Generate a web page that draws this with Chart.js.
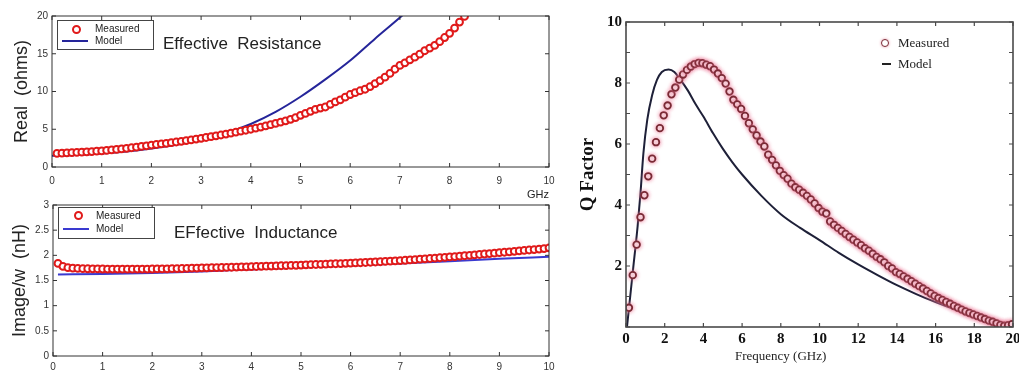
<!DOCTYPE html>
<html><head><meta charset="utf-8">
<script src="https://cdn.jsdelivr.net/npm/chart.js@4.4.1/dist/chart.umd.min.js"></script>
<style>
body{margin:0;background:#fff;width:1019px;height:380px;position:relative;overflow:hidden;font-family:"Liberation Sans",Arial,sans-serif}
canvas{position:absolute}
.t{position:absolute;white-space:pre;color:#222;line-height:1}
.box{position:absolute;border:1px solid #444;background:#fff}
.mk{position:absolute;border-radius:50%;box-sizing:border-box;background:#fff}
.ln{position:absolute;height:2px}
</style></head>
<body>
<canvas id="cA" width="560" height="205" style="left:0;top:0"></canvas>
<canvas id="cB" width="560" height="185" style="left:0;top:195px"></canvas>
<canvas id="cC" width="459" height="380" style="left:560px;top:0"></canvas>

<!-- legends / annotations -->
<div class="box" style="left:57px;top:20px;width:95px;height:28px"></div>
<div class="mk" style="left:72px;top:25px;width:9px;height:9px;border:2.5px solid #e01a1a"></div>
<div class="t" style="left:95px;top:24px;font-size:10px">Measured</div>
<div class="ln" style="left:62px;top:40px;width:26px;background:#25259a"></div>
<div class="t" style="left:95px;top:36px;font-size:10px">Model</div>
<div class="t" style="left:163px;top:35px;font-size:17px">Effective  Resistance</div>

<div class="box" style="left:58px;top:207px;width:95px;height:30px"></div>
<div class="mk" style="left:74px;top:211px;width:9px;height:9px;border:2.5px solid #e01a1a"></div>
<div class="t" style="left:96px;top:211px;font-size:10px">Measured</div>
<div class="ln" style="left:63px;top:228px;width:26px;background:#3a3ad0"></div>
<div class="t" style="left:96px;top:224px;font-size:10px">Model</div>
<div class="t" style="left:174px;top:224px;font-size:17px">EFfective  Inductance</div>

<div class="mk" style="left:881px;top:39px;width:8px;height:8px;border:1.8px solid #7a2a35;box-shadow:0 0 3px #e8a0b0"></div>
<div class="t" style="left:898px;top:36px;font-size:13px;font-family:'Liberation Serif',serif">Measured</div>
<div class="ln" style="left:882px;top:63px;width:9px;height:1.5px;background:#222"></div>
<div class="t" style="left:898px;top:57px;font-size:13px;font-family:'Liberation Serif',serif">Model</div>
<div class="t" style="left:735px;top:349px;font-size:13px;font-family:'Liberation Serif',serif">Frequency (GHz)</div>

<script>
// ---------- Effective Resistance ----------
const resFreq = [0.1,0.2,0.3,0.4,0.5,0.6,0.7,0.8,0.9,1.0,
  1.1,1.2,1.3,1.4,1.5,1.6,1.7,1.8,1.9,2.0,
  2.1,2.2,2.3,2.4,2.5,2.6,2.7,2.8,2.9,3.0,
  3.1,3.2,3.3,3.4,3.5,3.6,3.7,3.8,3.9,4.0,
  4.1,4.2,4.3,4.4,4.5,4.6,4.7,4.8,4.9,5.0,
  5.1,5.2,5.3,5.4,5.5,5.6,5.7,5.8,5.9,6.0,
  6.1,6.2,6.3,6.4,6.5,6.6,6.7,6.8,6.9,7.0,
  7.1,7.2,7.3,7.4,7.5,7.6,7.7,7.8,7.9,8.0,
  8.1,8.2,8.3];
const resMeasured = [1.80,1.83,1.86,1.90,1.93,1.97,2.00,2.04,2.09,2.13,
  2.19,2.26,2.33,2.40,2.47,2.55,2.63,2.72,2.81,2.90,
  2.98,3.06,3.14,3.22,3.31,3.40,3.50,3.59,3.70,3.80,
  3.91,4.02,4.13,4.24,4.36,4.48,4.61,4.74,4.87,5.00,
  5.14,5.29,5.44,5.60,5.77,5.94,6.12,6.32,6.55,6.85,
  7.10,7.38,7.62,7.80,7.95,8.30,8.62,8.90,9.25,9.60,
  9.85,10.10,10.30,10.65,11.05,11.45,11.90,12.40,12.95,13.45,
  13.80,14.20,14.55,14.95,15.40,15.75,16.10,16.60,17.15,17.70,
  18.40,19.20,19.95];
const resModelFreq = [0,0.5,1,1.5,2,2.5,3,3.5,4,4.5,5,5.5,6,6.5,7,7.5];
const resModel = [1.5,1.6,1.78,2.05,2.45,2.95,3.6,4.5,5.7,7.3,9.3,11.6,14.1,17.0,19.8,22.8];
const resTicksY = [0,5,10,15,20];

// ---------- Effective Inductance ----------
const indFreq = [0.1,0.2,0.3,0.4,0.5,0.6,0.7,0.8,0.9,1.0,
  1.1,1.2,1.3,1.4,1.5,1.6,1.7,1.8,1.9,2.0,
  2.1,2.2,2.3,2.4,2.5,2.6,2.7,2.8,2.9,3.0,
  3.1,3.2,3.3,3.4,3.5,3.6,3.7,3.8,3.9,4.0,
  4.1,4.2,4.3,4.4,4.5,4.6,4.7,4.8,4.9,5.0,
  5.1,5.2,5.3,5.4,5.5,5.6,5.7,5.8,5.9,6.0,
  6.1,6.2,6.3,6.4,6.5,6.6,6.7,6.8,6.9,7.0,
  7.1,7.2,7.3,7.4,7.5,7.6,7.7,7.8,7.9,8.0,
  8.1,8.2,8.3,8.4,8.5,8.6,8.7,8.8,8.9,9.0,
  9.1,9.2,9.3,9.4,9.5,9.6,9.7,9.8,9.9,10.0];
const indMeasured = [1.84,1.78,1.755,1.745,1.74,1.735,1.733,1.731,1.73,1.728,
  1.727,1.726,1.726,1.725,1.725,1.725,1.726,1.726,1.727,1.728,
  1.729,1.730,1.732,1.734,1.736,1.738,1.741,1.744,1.747,1.750,
  1.752,1.754,1.756,1.758,1.760,1.763,1.766,1.769,1.772,1.775,
  1.778,1.781,1.784,1.787,1.790,1.793,1.796,1.799,1.802,1.806,
  1.812,1.815,1.818,1.821,1.825,1.829,1.833,1.837,1.841,1.845,
  1.849,1.853,1.858,1.863,1.868,1.873,1.878,1.884,1.889,1.895,
  1.902,1.909,1.916,1.923,1.930,1.937,1.945,1.952,1.960,1.968,
  1.976,1.984,1.992,2.000,2.009,2.017,2.026,2.034,2.043,2.052,
  2.061,2.070,2.079,2.088,2.097,2.106,2.115,2.125,2.135,2.150];
const indModelFreq = [0.1,1,2,3,4,5,6,7,8,9,10];
const indModel = [1.62,1.63,1.65,1.68,1.72,1.76,1.80,1.84,1.88,1.93,1.97];

// ---------- Q factor ----------
const qFreq = [0.15,0.35,0.55,0.75,0.95, 1.15,1.35,1.55,1.75,1.95,
  2.15,2.35,2.55,2.75,2.95, 3.15,3.35,3.55,3.75,3.95,
  4.15,4.35,4.55,4.75,4.95, 5.15,5.35,5.55,5.75,5.95,
  6.15,6.35,6.55,6.75,6.95, 7.15,7.35,7.55,7.75,7.95,
  8.15,8.35,8.55,8.75,8.95, 9.15,9.35,9.55,9.75,9.95,
  10.15,10.35,10.55,10.75,10.95, 11.15,11.35,11.55,11.75,11.95,
  12.15,12.35,12.55,12.75,12.95, 13.15,13.35,13.55,13.75,13.95,
  14.15,14.35,14.55,14.75,14.95, 15.15,15.35,15.55,15.75,15.95,
  16.15,16.35,16.55,16.75,16.95, 17.15,17.35,17.55,17.75,17.95,
  18.15,18.35,18.55,18.75,18.95, 19.15,19.35,19.55,19.75,19.95];
const qMeasured = [0.63,1.70,2.70,3.60,4.32, 4.94,5.52,6.06,6.52,6.94,
  7.26,7.63,7.85,8.11,8.28, 8.43,8.54,8.62,8.66,8.65,
  8.60,8.55,8.44,8.31,8.16, 7.98,7.72,7.45,7.30,7.15,
  6.92,6.68,6.48,6.28,6.08, 5.92,5.65,5.48,5.30,5.12,
  4.98,4.86,4.70,4.58,4.50, 4.40,4.30,4.18,4.05,3.90,
  3.78,3.72,3.46,3.35,3.25, 3.15,3.05,2.95,2.86,2.77,
  2.68,2.58,2.50,2.40,2.30, 2.22,2.12,2.00,1.92,1.80,
  1.74,1.66,1.58,1.50,1.42, 1.34,1.26,1.18,1.10,1.02,
  0.95,0.89,0.82,0.76,0.69, 0.63,0.57,0.51,0.46,0.41,
  0.36,0.31,0.26,0.21,0.17, 0.12,0.07,0.04,0.06,0.09];
const qModelFreq = [0.05,0.2,0.4,0.6,0.75,0.9,1.1,1.35,1.6,1.85,
  2.2,2.5,2.8,3.2,3.6,4.0,4.5,5.0,5.5,6.0,
  7,8,9,10,11,12,13,14,15,16,17,18,19,19.5];
const qModel = [0,0.9,2.1,3.3,4.4,5.7,6.8,7.6,8.1,8.36,
  8.44,8.36,8.12,7.75,7.3,6.9,6.35,5.85,5.4,5.0,
  4.3,3.7,3.25,2.85,2.43,2.05,1.7,1.37,1.08,0.82,0.58,0.38,0.17,0.05];
const qTickLabels = ['2','4','6','8','10'];

const pts = (xs, ys) => xs.map((x, i) => ({x, y: ys[i]}));

// frame + inward ticks (MATLAB style), positions from the scales
const frameTicks = {
  id: 'frameTicks',
  afterDraw(chart, args, o) {
    const {ctx, chartArea: a} = chart;
    const xs = chart.scales.x, ys = chart.scales.y;
    ctx.save();
    ctx.strokeStyle = o.color; ctx.lineWidth = o.width;
    ctx.strokeRect(a.left, a.top, a.right - a.left, a.bottom - a.top);
    ctx.lineWidth = o.tickWidth || 1;
    ctx.beginPath();
    xs.ticks.forEach((t, i) => {
      const p = xs.getPixelForTick(i);
      ctx.moveTo(p, a.bottom); ctx.lineTo(p, a.bottom - o.len);
      ctx.moveTo(p, a.top); ctx.lineTo(p, a.top + o.len);
    });
    ys.ticks.forEach((t, i) => {
      const p = ys.getPixelForTick(i);
      ctx.moveTo(a.left, p); ctx.lineTo(a.left + o.len, p);
      ctx.moveTo(a.right, p); ctx.lineTo(a.right - o.len, p);
    });
    ctx.stroke();
    ctx.restore();
  }
};
// soft pink halo around the Q-factor markers
const halo = {
  id: 'halo',
  beforeDatasetDraw(chart, args, o) {
    if (args.index !== 0 || !o.color) return;
    const ctx = chart.ctx; ctx.save();
    ctx.shadowColor = o.color; ctx.shadowBlur = o.blur;
  },
  afterDatasetDraw(chart, args, o) {
    if (args.index !== 0 || !o.color) return;
    chart.ctx.restore();
  }
};
Chart.register(frameTicks, halo);

const sans = "'Liberation Sans', Arial, sans-serif";
const serif = "'Liberation Serif', 'Times New Roman', serif";

function baseOpts(o) {
  return {
    responsive: false, animation: false, events: [],
    layout: {padding: o.pad},
    plugins: {legend: {display: false}, tooltip: {enabled: false},
      frameTicks: o.frame, halo: o.halo || {}},
    scales: {
      x: Object.assign({type: 'linear', grid: {display: false, drawTicks: false}, border: {display: false},
        afterFit(s) { s.height = o.xh; s.paddingLeft = 0; s.paddingRight = 0; }}, o.x),
      y: Object.assign({type: 'linear', grid: {display: false, drawTicks: false}, border: {display: false},
        afterFit(s) { s.width = o.yw; s.paddingTop = 0; s.paddingBottom = 0; }}, o.y)
    }
  };
}

// Chart A: Effective Resistance
new Chart(document.getElementById('cA'), {
  type: 'line',
  data: {datasets: [
    {label: 'Measured', data: pts(resFreq, resMeasured), showLine: false,
      pointRadius: 3.4, pointBorderWidth: 2, pointBorderColor: '#e01a1a', pointBackgroundColor: '#fff'},
    {label: 'Model', data: pts(resModelFreq, resModel), borderColor: '#25259a', borderWidth: 2,
      pointRadius: 0, cubicInterpolationMode: 'monotone'}
  ]},
  options: baseOpts({
    pad: {top: 16, right: 11, left: 0, bottom: 0}, xh: 38, yw: 52,
    frame: {color: '#333', width: 1, len: 4},
    x: {min: 0, max: 10, ticks: {stepSize: 1, padding: 8, color: '#333', font: {family: sans, size: 10}},
      title: {display: true, text: 'GHz', align: 'end', color: '#222', font: {family: sans, size: 11}, padding: {top: 0, bottom: 3}}},
    y: {min: 0, max: 20, afterBuildTicks(s) { s.ticks = resTicksY.map(v => ({value: v})); },
      ticks: {padding: 4, color: '#333', font: {family: sans, size: 10}},
      title: {display: true, text: 'Real  (ohms)', color: '#222', font: {family: sans, size: 18}, padding: {top: 11}}}
  })
});

// Chart B: Effective Inductance
new Chart(document.getElementById('cB'), {
  type: 'line',
  data: {datasets: [
    {label: 'Measured', data: pts(indFreq, indMeasured), showLine: false,
      pointRadius: 3.4, pointBorderWidth: 2, pointBorderColor: '#e01a1a', pointBackgroundColor: '#fff'},
    {label: 'Model', data: pts(indModelFreq, indModel), borderColor: '#3a3ad0', borderWidth: 2,
      pointRadius: 0, cubicInterpolationMode: 'monotone'}
  ]},
  options: baseOpts({
    pad: {top: 10, right: 11, left: 0, bottom: 0}, xh: 24, yw: 53,
    frame: {color: '#333', width: 1, len: 4},
    x: {min: 0, max: 10, ticks: {stepSize: 1, padding: 5, color: '#333', font: {family: sans, size: 10}}},
    y: {min: 0, max: 3, ticks: {stepSize: 0.5, padding: 4, color: '#333', font: {family: sans, size: 10},
        callback: v => String(Math.round(v * 10) / 10)},
      title: {display: true, text: 'Image/w  (nH)', color: '#222', font: {family: sans, size: 18}, padding: {top: 9}}}
  })
});

// Chart C: Q Factor
new Chart(document.getElementById('cC'), {
  type: 'line',
  data: {datasets: [
    {label: 'Measured', data: pts(qFreq, qMeasured), showLine: false,
      pointRadius: 3.3, pointBorderWidth: 1.8, pointBorderColor: '#7a2a35', pointBackgroundColor: '#fff'},
    {label: 'Model', data: pts(qModelFreq, qModel), borderColor: '#1e2038', borderWidth: 2,
      pointRadius: 0, cubicInterpolationMode: 'monotone'}
  ]},
  options: baseOpts({
    pad: {top: 22, right: 6, left: 0, bottom: 0}, xh: 53, yw: 66,
    frame: {color: '#4a4a4a', width: 1.6, len: 4, tickWidth: 1.2},
    halo: {color: 'rgba(235,120,150,0.9)', blur: 4},
    x: {min: 0, max: 20, ticks: {stepSize: 2, padding: 3, color: '#111', font: {family: serif, size: 15, weight: 'bold'}}},
    y: {min: 0, max: 10, ticks: {stepSize: 1, padding: 4, color: '#111', font: {family: serif, size: 15, weight: 'bold'},
        callback: v => qTickLabels.includes(String(v)) ? String(v) : ''},
      title: {display: true, text: 'Q Factor', color: '#111', font: {family: serif, size: 19, weight: 'bold'}, padding: {top: 17}}}
  })
});
</script>
</body></html>
